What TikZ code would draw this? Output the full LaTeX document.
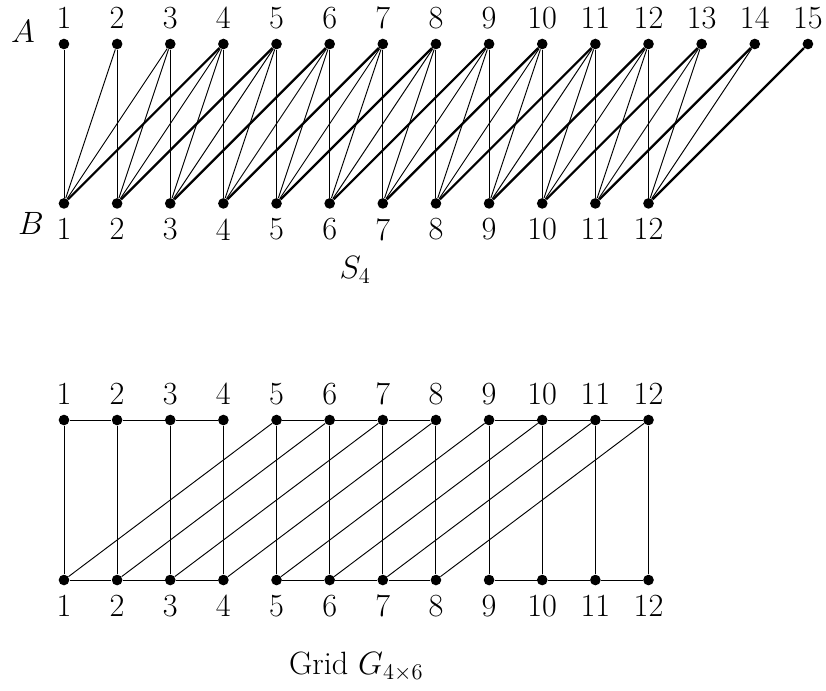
\documentclass[tikz,border=0pt]{standalone}
\usepackage{amsmath}
\usepackage{amssymb}
\usepackage{tikz}
\tikzset{vtx/.style={circle,fill=black,inner sep=0pt,minimum size=0.2cm}}
\tikzset{thinedge/.style={line width=0.5pt}}
\tikzset{thickedge/.style={line width=1.2pt}}

\begin{document}
\begin{tikzpicture}[font=\LARGE,label distance=1.5pt]
			\useasboundingbox (-1.204,0.828) rectangle (14.34,-12.157);
			\node (lA) at (-0.77,0.23) {$A$};
			\node (lB) at (-0.62,-3.37) {$B$};
			\foreach \x in {1,...,15}
			\node[vtx,label=above:\x] (a\x) at (\x - 1,0) {};
			\foreach \x in {1,...,12}
			\node[vtx,label=below:\x] (b\x) at (\x - 1,-3) {};
			\foreach \x in {1,...,12}
			\foreach \k in {0,1,2}
			{
				\pgfmathtruncatemacro{\y}{\x + \k}
				\draw[thinedge] (b\x) -- (a\y);
			}
			\foreach \x in {1,...,12}
			{
				\pgfmathtruncatemacro{\y}{\x + 3}
				\draw[thickedge] (b\x) -- (a\y);
			}
			\node (s4) at (5.48,-4.25) {$S_4$};
			% grid
			\foreach \x in {1,...,12}
			\node[vtx,label=above:\x] (gt\x) at (\x - 1,-7.076) {};
			\foreach \x in {1,...,12}
			\node[vtx,label=below:\x] (gb\x) at (\x - 1,-10.087) {};
			\foreach \x in {1,...,12}
			\draw[thinedge] (gt\x) -- (gb\x);
			\foreach \x/\y in {1/2,2/3,3/4,5/6,6/7,7/8,9/10,10/11,11/12}
			{
				\draw[thinedge] (gt\x) -- (gt\y);
				\draw[thinedge] (gb\x) -- (gb\y);
			}
			\foreach \x in {1,...,8}
			{
				\pgfmathtruncatemacro{\y}{\x + 4}
				\draw[thinedge] (gb\x) -- (gt\y);
			}
			\node (grid) at (5.5,-11.72) {Grid $G_{4\times 6}$};
	\end{tikzpicture}
\end{document}
